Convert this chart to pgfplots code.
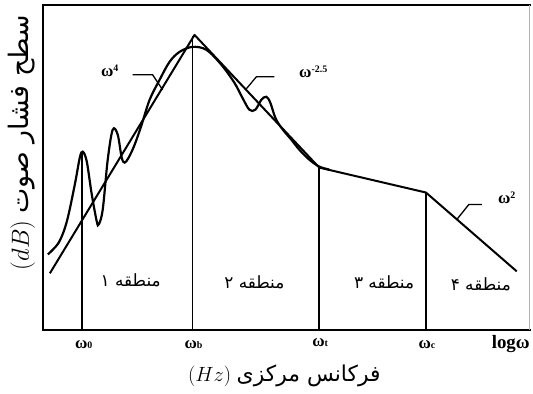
\documentclass[border=0pt]{standalone}
\usepackage{fontspec}
\setmainfont{Liberation Serif}
\newfontfamily\arabicfont[Script=Arabic]{DejaVu Sans}
\TeXXeTstate=1
\usepackage{pgfplots}
\pgfplotsset{compat=1.18}
\newcommand{\wlab}[1]{{\fontsize{17}{17}\selectfont ω}{\fontsize{10}{10}\selectfont #1}}
\begin{document}
\begin{tikzpicture}
\begin{axis}[
  scale only axis, width=488bp, height=326bp,
  xmin=43, xmax=531, ymin=63, ymax=389,
  axis line style={draw=none},
  xtick=\empty, ytick=\empty,
  clip=false,
]
% bounding box of the whole picture
\path (axis cs:0,0) rectangle (axis cs:533,394);
% frame
\draw[line width=2pt, line cap=rect] (axis cs:531,389) -- (axis cs:43,389) -- (axis cs:43,63) -- (axis cs:531,63);
\draw[gray!60, line width=0.7pt] (axis cs:531,389) -- (axis cs:531,63);

% vertical region boundaries
\addplot[black, line width=1.7pt] coordinates {(82,63) (82,242)};
\addplot[black, line width=1.7pt] coordinates {(193,63) (193,358)};
\addplot[black, line width=1.7pt] coordinates {(320,63) (320,226)};
\addplot[black, line width=1.7pt] coordinates {(427,63) (427,201)};

% asymptote lines
\addplot[black, line width=2pt, line join=round] coordinates {
 (50,120) (195,359) (320,226) (427,201) (518,122)};

% measured (wavy) spectrum
\addplot[black, line width=2.2pt, smooth, tension=0.55] coordinates {
 (48,139) (59,151) (67,172) (75,209) (80,236) (83,242) (87,232) (92,199)
 (97,172) (99,169) (103,184) (108,234) (113,264) (118,259) (122,236)
 (125,231) (129,236) (135,249) (142,269) (150,294) (160,314) (170,332)
 (180,342) (193,347) (207,344) (222,329) (235,311) (243,296) (250,284)
 (256,284) (262,294) (267,297) (271,291) (276,276) (282,266) (292,254)
 (300,244) (310,234) (320,227) (330,224)};

% leaders
\addplot[black, line width=1.3pt] coordinates {(133,319) (153,319) (163,304)};
\addplot[black, line width=1.3pt] coordinates {(275,317) (257,317) (247,305)};
\addplot[black, line width=1.3pt] coordinates {(483,189) (470,189) (458,174)};

% slope labels
\node[font=\bfseries] at (axis cs:110,323) {\wlab{\raisebox{5pt}{4}}};
\node[font=\bfseries] at (axis cs:314,322) {\wlab{\raisebox{5pt}{-2.5}}};
\node[font=\bfseries] at (axis cs:508,196) {\wlab{\raisebox{5pt}{2}}};

% region labels
\node[font=\arabicfont\fontsize{17}{17}\selectfont] at (axis cs:131,113) {\beginR منطقه ۱\endR};
\node[font=\arabicfont\fontsize{17}{17}\selectfont] at (axis cs:255,111) {\beginR منطقه ۲\endR};
\node[font=\arabicfont\fontsize{17}{17}\selectfont] at (axis cs:385,111) {\beginR منطقه ۳\endR};
\node[font=\arabicfont\fontsize{17}{17}\selectfont] at (axis cs:482,109) {\beginR منطقه ۴\endR};

% x tick labels
\node[font=\bfseries] at (axis cs:84,49) {\wlab{0}};
\node[font=\bfseries] at (axis cs:194,49) {\wlab{b}};
\node[font=\bfseries] at (axis cs:321,51) {\wlab{t}};
\node[font=\bfseries] at (axis cs:428,49) {\wlab{c}};
\node[font=\bfseries\fontsize{19}{19}\selectfont] at (axis cs:512,49) {logω};

% axis titles
\node[font=\fontsize{22}{22}\selectfont] at (axis cs:285,17) {$(Hz)$\ {\arabicfont\beginR فرکانس مرکزی\endR}};
\node[font=\fontsize{27}{27}\selectfont, rotate=90] at (axis cs:22,251) {$(dB)$\ {\arabicfont\beginR سطح فشار صوت\endR}};
\end{axis}
\end{tikzpicture}
\end{document}
